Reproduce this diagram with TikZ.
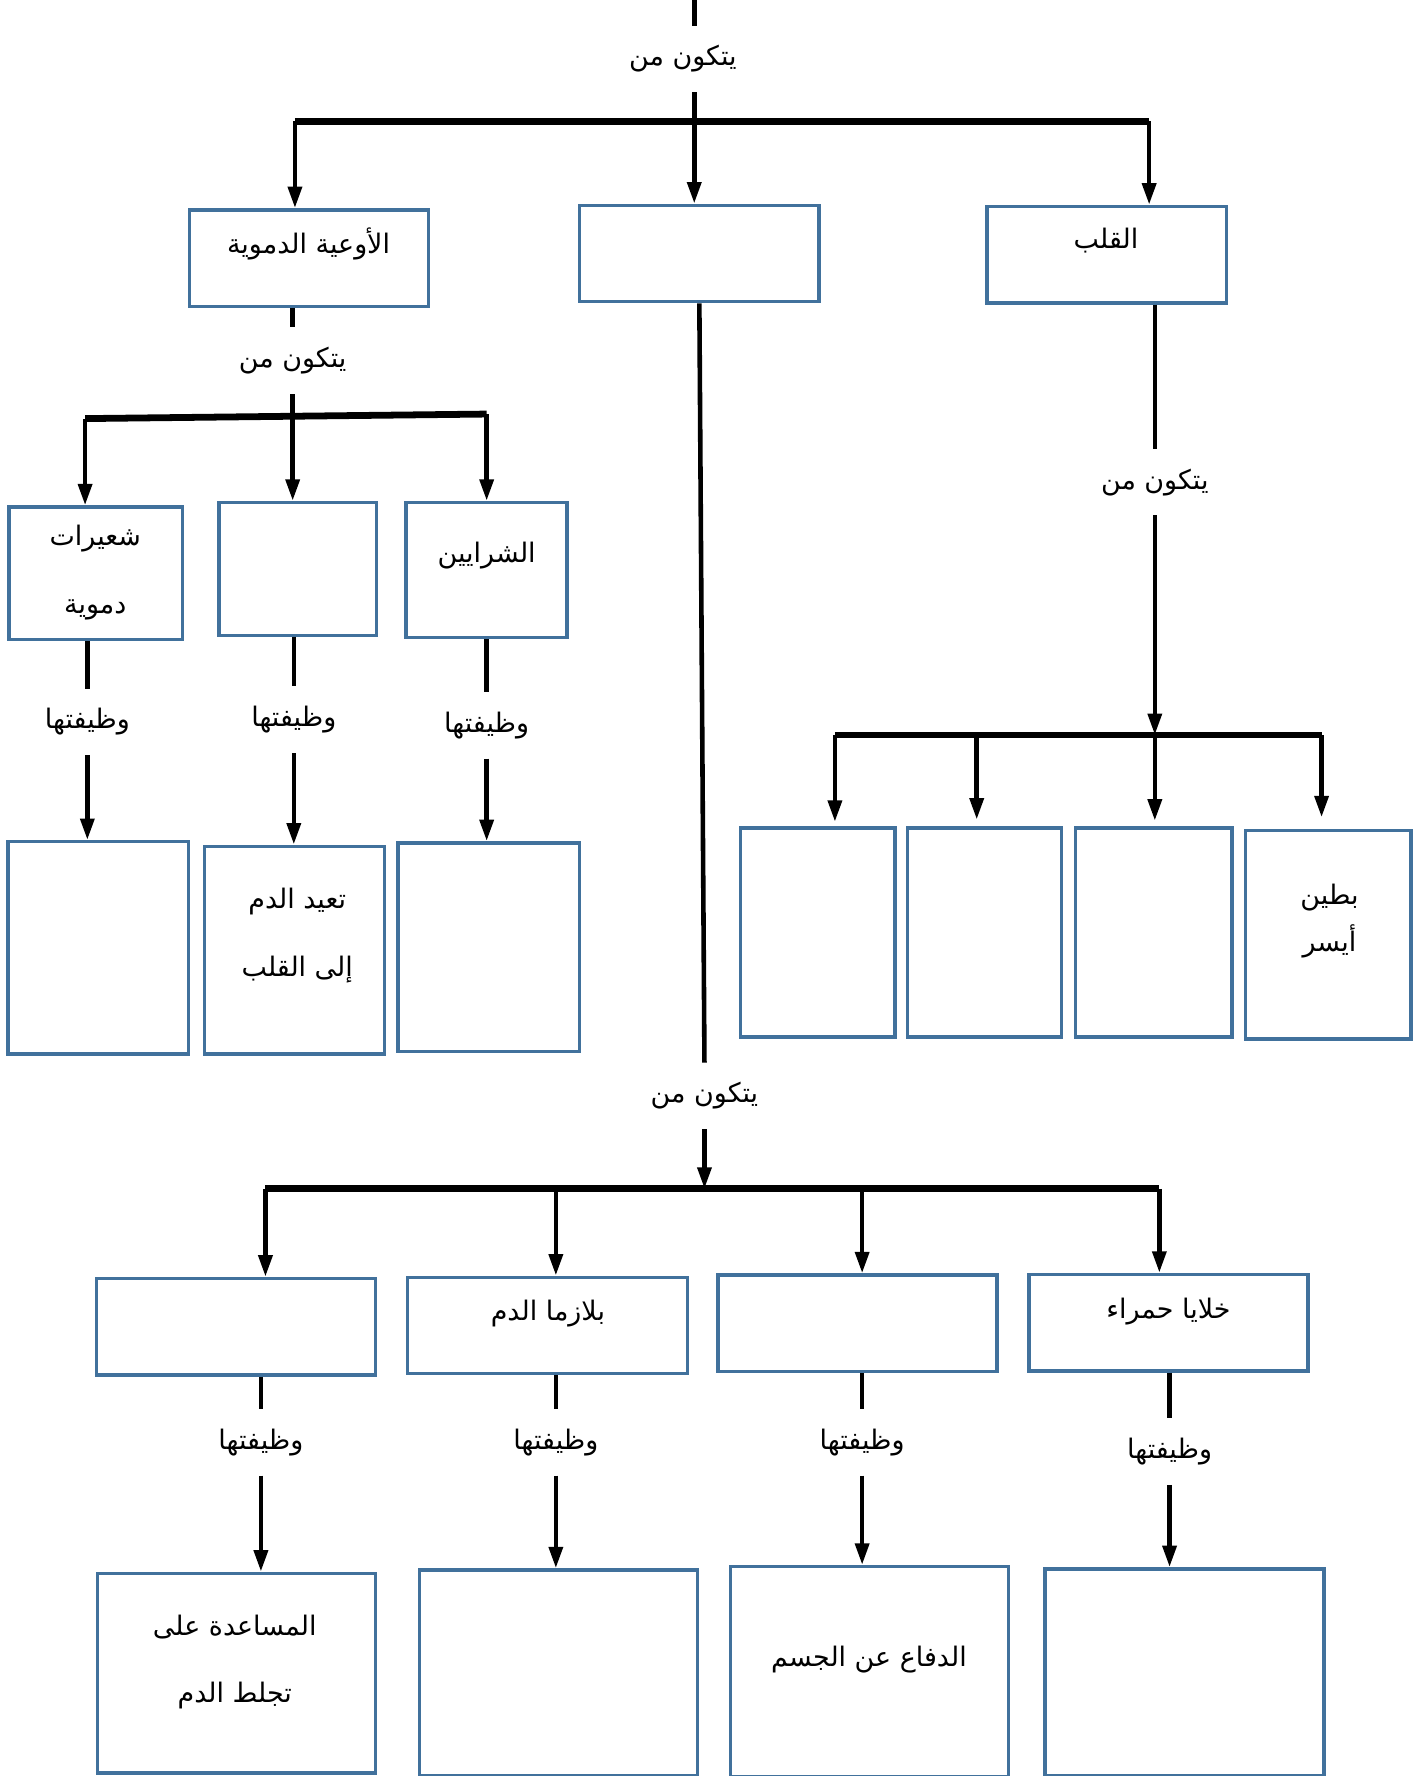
\documentclass[tikz,border=0pt]{standalone}
\usepackage{fontspec}
\newfontfamily\arabicfont[Script=Arabic]{DejaVu Sans}
\TeXXeTstate=1
\usetikzlibrary{arrows.meta}
\definecolor{boxblue}{RGB}{65,113,156}
\newcommand{\rtl}[1]{\beginR #1\endR}
\tikzset{
  box/.style={draw=boxblue, line width=1.7pt, inner sep=0pt},
  txt/.style={font=\arabicfont\fontsize{13.5}{16}\selectfont, inner sep=0pt, align=center},
  via/.style={txt, minimum height=1.16cm},
  line/.style={line width=2.3pt},
  bar/.style={line width=3.4pt},
}
\begin{document}
\begin{tikzpicture}[x=0.02cm, y=-0.02cm, >={Triangle[length=0.38cm,width=0.24cm]}]
	\useasboundingbox (0,0) rectangle (1250,1565.6);

	% Manual node positions
	\coordinate (top) at (612,0);
	\node[via] (t0) at (602,52) {\rtl{يتكون من}};
	\node[box, minimum width=4.22cm, minimum height=1.7cm] (vess) at (272.5,227.5) {};
	\node[box, minimum width=4.22cm, minimum height=1.7cm] (blood) at (616.5,223.5) {};
	\node[box, minimum width=4.22cm, minimum height=1.7cm] (heart) at (975.5,224.5) {};
	\node[txt] (vessT) at (272,215) {\rtl{الأوعية الدموية}};
	\node[txt] (heartT) at (975,212) {\rtl{القلب}};

	% vessels
	\node[via] (tv) at (258,318) {\rtl{يتكون من}};
	\node[box, minimum width=3.06cm, minimum height=2.34cm] (cap) at (84.5,505.5) {};
	\node[box, minimum width=2.78cm, minimum height=2.34cm] (vein) at (262.5,501.5) {};
	\node[box, minimum width=2.84cm, minimum height=2.38cm] (art) at (429,502.5) {};
	\node[txt] (capT) at (84,505) {\rtl{شعيرات}\\[18pt]\rtl{دموية}};
	\node[txt] (artT) at (429,490) {\rtl{الشرايين}};
	\node[via] (w1) at (77,636.5) {\rtl{وظيفتها}};
	\node[via] (w2) at (259,634.5) {\rtl{وظيفتها}};
	\node[via] (w3) at (429,639.5) {\rtl{وظيفتها}};
	\node[box, minimum width=3.18cm, minimum height=3.74cm] (capF) at (86.5,835.5) {};
	\node[box, minimum width=3.18cm, minimum height=3.66cm] (veinF) at (259.5,837.5) {};
	\node[box, minimum width=3.2cm, minimum height=3.68cm] (artF) at (431,835) {};
	\node[txt] (veinFT) at (262,825) {\rtl{تعيد الدم}\\[18pt]\rtl{إلى القلب}};

	% heart
	\node[via] (th) at (1018,425) {\rtl{يتكون من}};
	\node[box, minimum width=2.72cm, minimum height=3.68cm] (h1) at (721,822) {};
	\node[box, minimum width=2.72cm, minimum height=3.68cm] (h2) at (868,822) {};
	\node[box, minimum width=2.76cm, minimum height=3.68cm] (h3) at (1017,822) {};
	\node[box, minimum width=2.92cm, minimum height=3.68cm] (h4) at (1171,824) {};
	\node[txt] (h4T) at (1172,812) {\rtl{بطين}\\[6pt]\rtl{أيسر}};

	% blood
	\node[via] (tb) at (621,966) {\rtl{يتكون من}};
	\node[box, minimum width=4.92cm, minimum height=1.7cm] (b1) at (208,1169.5) {};
	\node[box, minimum width=4.94cm, minimum height=1.7cm] (b2) at (482.5,1168.5) {};
	\node[box, minimum width=4.92cm, minimum height=1.7cm] (b3) at (756,1166.5) {};
	\node[box, minimum width=4.92cm, minimum height=1.7cm] (b4) at (1030,1166) {};
	\node[txt] (b2T) at (483,1158) {\rtl{بلازما الدم}};
	\node[txt] (b4T) at (1030,1156) {\rtl{خلايا حمراء}};
	\node[via] (w4) at (230,1271.5) {\rtl{وظيفتها}};
	\node[via] (w5) at (490,1271.5) {\rtl{وظيفتها}};
	\node[via] (w6) at (760,1271.5) {\rtl{وظيفتها}};
	\node[via] (w7) at (1031,1279.5) {\rtl{وظيفتها}};
	\node[box, minimum width=4.9cm, minimum height=3.52cm] (f1) at (208.5,1475) {};
	\node[box, minimum width=4.9cm, minimum height=3.62cm] (f2) at (492.5,1474.5) {};
	\node[box, minimum width=4.9cm, minimum height=3.7cm] (f3) at (766.5,1473.5) {};
	\node[box, minimum width=4.92cm, minimum height=3.64cm] (f4) at (1044,1474) {};
	\node[txt] (f1T) at (207,1465) {\rtl{المساعدة على}\\[18pt]\rtl{تجلط الدم}};
	\node[txt] (f3T) at (766,1463) {\rtl{الدفاع عن الجسم}};

	% bar junctions
	\coordinate (bAl) at (260,107);
	\coordinate (bAr) at (1013,107);
	\coordinate (bBl) at (75,369);
	\coordinate (bBr) at (429,365);
	\coordinate (bDl) at (736,648);
	\coordinate (bD2) at (861,648);
	\coordinate (bDr) at (1165,648);
	\coordinate (bCl) at (234,1048);
	\coordinate (bC2) at (490,1048);
	\coordinate (bC3) at (760,1048);
	\coordinate (bCr) at (1022,1048);

	% Connections
	\draw[line] (top) -- (top |- t0.north);
	\draw[line, ->] (top |- t0.south) -- (top |- blood.north);
	\draw[bar] (bAl) -- (bAr);
	\draw[line, ->] (bAl) -- (bAl |- vess.north);
	\draw[line, ->] (bAr) -- (bAr |- heart.north);

	\draw[line] (vess.south -| tv) -- (tv.north);
	\draw[line, ->] (tv.south) -- (tv |- vein.north);
	\draw[bar] (bBl) -- (bBr);
	\draw[line, ->] (bBl) -- (bBl |- cap.north);
	\draw[line, ->] (bBr) -- (bBr |- art.north);
	\draw[line] (cap.south -| w1) -- (w1.north);
	\draw[line, ->] (w1.south) -- (w1 |- capF.north);
	\draw[line] (vein.south -| w2) -- (w2.north);
	\draw[line, ->] (w2.south) -- (w2 |- veinF.north);
	\draw[line] (art.south -| w3) -- (w3.north);
	\draw[line, ->] (w3.south) -- (w3 |- artF.north);

	\draw[line] (heart.south -| th) -- (th.north);
	\draw[line, ->] (th.south) -- (th |- bDl);
	\draw[bar] (bDl) -- (bDr);
	\draw[line, ->] (bDl) -- ([yshift=0.08cm]bDl |- h1.north);
	\draw[line, ->] (bD2) -- ([yshift=0.12cm]bD2 |- h2.north);
	\draw[line, ->] (th |- bDl) -- ([yshift=0.1cm]th |- h3.north);
	\draw[line, ->] (bDr) -- ([yshift=0.2cm]bDr |- h4.north);

	\draw[line] (blood.south) -- (tb.north);
	\draw[line, ->] (tb.south) -- (tb |- bCl);
	\draw[bar] (bCl) -- (bCr);
	\draw[line, ->] (bCl) -- (bCl |- b1.north);
	\draw[line, ->] (bC2) -- (bC2 |- b2.north);
	\draw[line, ->] (bC3) -- (bC3 |- b3.north);
	\draw[line, ->] (bCr) -- (bCr |- b4.north);
	\draw[line] (b1.south -| w4) -- (w4.north);
	\draw[line, ->] (w4.south) -- (w4 |- f1.north);
	\draw[line] (b2.south -| w5) -- (w5.north);
	\draw[line, ->] (w5.south) -- (w5 |- f2.north);
	\draw[line] (b3.south -| w6) -- (w6.north);
	\draw[line, ->] (w6.south) -- (w6 |- f3.north);
	\draw[line] (b4.south -| w7) -- (w7.north);
	\draw[line, ->] (w7.south) -- (w7 |- f4.north);
\end{tikzpicture}
\end{document}
